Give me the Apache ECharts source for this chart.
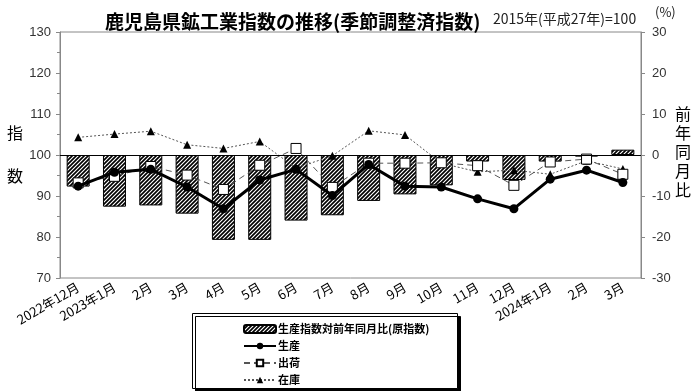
<!DOCTYPE html>
<html><head><meta charset="utf-8">
<script src="https://cdn.jsdelivr.net/npm/echarts@6/dist/echarts.min.js"></script>
<style>html,body{margin:0;padding:0;background:#fff}#c{width:700px;height:391px}</style>
</head><body><div id="c"></div>
<script>
const categories = ['2022年12月','2023年1月','2月','3月','4月','5月','6月','7月','8月','9月','10月','11月','12月','2024年1月','2月','3月'];
const yoyChange = [-7.7,-12.6,-12.3,-14.3,-20.7,-20.7,-16.0,-14.7,-11.2,-9.6,-7.4,-1.6,-6.1,-1.6,-0.4,1.3];
const production = [92.4,95.8,96.5,92.2,86.9,93.9,96.5,90.1,97.7,92.4,92.2,89.3,86.9,94.1,96.3,93.3];
const shipments = [93.2,94.8,97.2,95.1,91.6,97.5,101.6,92.1,98.0,98.0,98.1,97.4,92.6,98.3,99.0,95.3];
const inventory = [104.3,105.1,105.8,102.5,101.6,103.3,96.8,99.8,105.9,104.9,98.0,95.9,96.3,95.3,98.6,96.6];
const leftTicks = [70,130,10];
const rightTicks = [-30,30,10];

function hatch(){
  const c=document.createElement('canvas'); c.width=4; c.height=4;
  const g=c.getContext('2d'); g.fillStyle='#fff'; g.fillRect(0,0,4,4);
  g.strokeStyle='#000'; g.lineWidth=1.7;
  g.beginPath(); g.moveTo(0,4); g.lineTo(4,0); g.moveTo(-1,1); g.lineTo(1,-1); g.moveTo(3,5); g.lineTo(5,3); g.stroke();
  return c;
}
const FONT='"Noto Sans CJK JP", sans-serif';
const chart=echarts.init(document.getElementById('c'));
chart.setOption({
  animation:false,
  title:{text:'鹿児島県鉱工業指数の推移(季節調整済指数)',left:100,top:7,
    textStyle:{fontSize:19,fontWeight:'bold',fontFamily:FONT,color:'#000'}},
  grid:{left:60,right:59,top:32,bottom:113,show:true,borderColor:'#888',borderWidth:1},
  graphic:[
    {type:'text',left:493,top:12,style:{text:'2015年(平成27年)=100',fontSize:14,fontFamily:FONT,fill:'#222'}},
    {type:'text',left:655,top:6,style:{text:'(%)',fontSize:13,fontFamily:FONT,fill:'#222'}},
    {type:'text',left:7,top:125,style:{text:'指',fontSize:16,fontFamily:FONT,fill:'#000'}},
    {type:'text',left:7,top:168,style:{text:'数',fontSize:16,fontFamily:FONT,fill:'#000'}},
    {type:'text',left:675,top:104,style:{text:'前\n年\n同\n月\n比',fontSize:16,lineHeight:19,fontFamily:FONT,fill:'#000'}},
    {type:'rect',shape:{x:192.5,y:313.5,width:265,height:75},
      style:{fill:'#fff',stroke:'#000',lineWidth:1,shadowColor:'#000',shadowOffsetX:3,shadowOffsetY:3,shadowBlur:0},z:-1}
  ],
  legend:{orient:'vertical',left:238,top:317,height:90,itemGap:3,itemWidth:32,itemHeight:8,
    textStyle:{fontSize:11,lineHeight:14,fontFamily:FONT,color:'#000',fontWeight:'bold',padding:[0,0,0,-3]},
    data:['生産指数対前年同月比(原指数)','生産','出荷','在庫']},
  xAxis:{type:'category',data:categories,boundaryGap:true,
    axisLine:{lineStyle:{color:'#888'}},axisTick:{show:false},
    axisLabel:{interval:0,rotate:30,fontSize:13,fontFamily:FONT,color:'#000',margin:8}},
  yAxis:[
    {type:'value',min:leftTicks[0],max:leftTicks[1],interval:leftTicks[2],position:'left',
      axisLine:{show:true,lineStyle:{color:'#888'}},axisTick:{show:true,length:4,lineStyle:{color:'#888'}},
      minorTick:{show:true,splitNumber:2,length:3,lineStyle:{color:'#888'}},
      splitLine:{show:false},axisLabel:{fontSize:13,fontFamily:'"Liberation Sans", Arial',color:'#333',margin:9}},
    {type:'value',min:rightTicks[0],max:rightTicks[1],interval:rightTicks[2],position:'right',
      axisLine:{show:true,lineStyle:{color:'#888'}},axisTick:{show:true,length:4,lineStyle:{color:'#888'}},
      splitLine:{show:false},axisLabel:{fontSize:13,fontFamily:'"Liberation Sans", Arial',color:'#333',margin:11}}
  ],
  series:[
    {name:'生産指数対前年同月比(原指数)',type:'bar',yAxisIndex:1,data:yoyChange,barWidth:23,
      itemStyle:{color:{image:hatch(),repeat:'repeat'},borderColor:'#000',borderWidth:1},
      markLine:{silent:true,symbol:'none',label:{show:false},lineStyle:{color:'#000',type:'solid',width:1.2},data:[{yAxis:0}]},z:1},
    {name:'在庫',type:'line',yAxisIndex:0,data:inventory,symbol:'triangle',symbolSize:8,
      lineStyle:{color:'#555',width:1,type:[2,2]},itemStyle:{color:'#000'},z:3},
    {name:'出荷',type:'line',yAxisIndex:0,data:shipments,symbol:'rect',symbolSize:10,
      lineStyle:{color:'#555',width:1,type:[6,4]},itemStyle:{color:'#fff',borderColor:'#000',borderWidth:1},z:4},
    {name:'生産',type:'line',yAxisIndex:0,data:production,symbol:'circle',symbolSize:9,
      lineStyle:{color:'#000',width:3},itemStyle:{color:'#000'},z:5}
  ]
});
</script></body></html>
